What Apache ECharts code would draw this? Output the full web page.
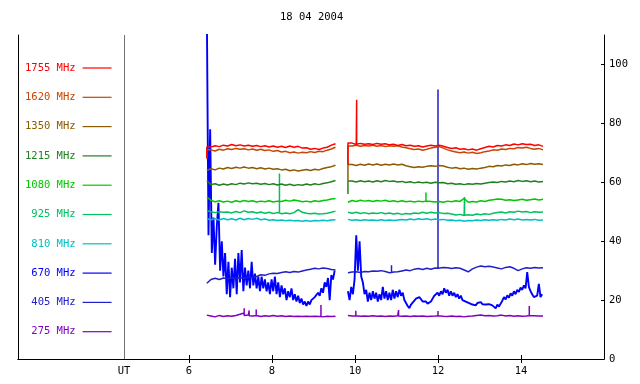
<!DOCTYPE html>
<html>
<head>
<meta charset="utf-8">
<script src="https://cdn.jsdelivr.net/npm/echarts@6/dist/echarts.min.js"></script>
<style>html,body{margin:0;padding:0;background:#fff}#c{width:640px;height:384px}</style>
</head>
<body>
<div id="c"></div>
<script>
const TITLE = '18 04 2004';
const CHANNELS = ['1755 MHz','1620 MHz','1350 MHz','1215 MHz','1080 MHz','925 MHz','810 MHz','670 MHz','405 MHz','275 MHz'];
const COLORS = ['#ff0000','#c84600','#8a5c00','#208020','#00c800','#00c060','#00c0c0','#0000ff','#2020c8','#8000c0'];
const X_MIN = 1.88, X_MAX = 16;
const UT_MARK = 4.434;
const X_TICKS = [6, 8, 10, 12, 14];
const Y_TICKS = [0, 20, 40, 60, 80, 100];
const Y_MAX = 110;
const SEG1_START = 6.43, SEG2_START = 9.83, GAP_AT = 9.68;
const STEP_SLOW = 0.1, STEP_FAST = 0.04;

// 1755 MHz
const f1755a = [72.0,72.0,72.4,72.1,72.6,72.3,72.8,72.4,
72.7,72.3,72.6,72.2,72.5,72.1,72.4,72.0,
72.3,71.9,72.2,71.8,72.3,71.9,72.2,71.6,
71.7,71.2,71.5,71.1,71.6,71.9,72.6,73.1];
const f1755b = [73.3,73.3,72.8,73.2,72.9,73.1,72.8,73.2,
72.9,73.1,72.7,72.9,72.5,72.8,72.4,72.6,
72.2,72.4,72.0,72.3,72.6,72.3,72.6,72.2,
71.8,71.5,71.7,71.2,71.4,71.0,71.3,70.9,
71.4,71.8,72.2,72.0,72.5,72.3,72.7,72.5,
73.0,72.7,73.1,72.8,72.9,72.5,72.7,72.2];
const s1755 = [[6.43, 72.0, 68.5], [9.83, 73.3, 66.0], [10.04, 72.9, 88.0]];
// 1620 MHz
const f1620a = [71.0,71.0,70.6,71.2,70.9,71.4,71.1,71.5,
71.2,71.4,71.0,71.3,70.9,71.2,70.8,71.0,
70.5,70.8,70.3,70.5,70.0,70.3,69.9,70.2,
70.0,70.4,70.1,70.5,70.4,70.9,71.3,71.9];
const f1620b = [72.3,72.3,72.6,72.2,72.5,72.3,72.6,72.2,
72.5,72.1,72.4,72.2,72.4,72.0,71.7,71.4,
71.1,71.3,70.9,71.2,71.6,71.9,72.1,71.6,
71.0,70.6,70.3,70.0,70.3,69.9,70.2,69.8,
70.0,70.4,70.6,71.0,70.9,71.3,71.1,71.5,
71.4,71.8,71.6,71.9,71.5,71.2,71.5,71.0];
const s1620 = [[6.43, 71.0, 68.0], [9.83, 72.3, 66.0]];
// 1350 MHz
const f1350a = [64.0,64.6,64.2,64.8,64.5,65.0,64.7,65.1,
64.8,65.2,64.8,65.0,64.6,64.9,64.5,64.8,
64.4,64.6,64.2,64.4,63.9,64.2,63.8,64.1,
64.3,64.0,64.4,64.2,64.7,65.0,65.3,65.8];
const f1350b = [66.0,66.0,65.7,66.1,65.8,66.2,65.9,66.2,
65.8,66.1,65.9,66.2,65.9,66.1,65.6,65.3,
65.0,65.3,65.1,65.4,65.6,65.4,65.7,65.5,
65.1,64.8,65.0,64.6,64.8,64.4,64.7,64.5,
64.8,65.0,65.4,65.3,65.7,65.5,65.9,65.7,
66.1,65.9,66.3,66.0,66.4,66.1,66.3,66.0];
const s1350 = [[9.83, 66.0, 60.5]];
// 1215 MHz
const f1215a = [60.5,59.2,59.5,59.0,59.4,59.1,59.5,59.2,
59.7,59.4,59.8,59.5,59.7,59.3,59.6,59.2,
59.5,59.1,59.4,59.0,59.3,58.9,59.2,59.0,
59.4,59.1,59.5,59.2,59.6,59.8,60.2,60.6];
const f1215b = [60.4,60.4,60.1,60.5,60.2,60.4,60.1,60.5,
60.2,60.6,60.3,60.4,60.1,60.3,59.9,60.2,
59.8,60.1,59.8,60.0,59.7,60.0,59.8,59.9,
59.5,59.7,59.3,59.5,59.2,59.5,59.3,59.6,
59.4,59.7,59.9,60.1,59.9,60.3,60.1,60.4,
60.2,60.6,60.3,60.5,60.2,60.4,60.1,60.3];
const s1215 = [[9.83, 60.4, 56.0]];
// 1080 MHz
const f1080a = [55.0,53.8,53.4,53.7,53.3,53.6,53.2,53.7,
53.4,53.8,53.5,53.7,53.3,53.6,53.4,53.7,
53.3,53.6,53.5,53.9,53.6,54.0,53.7,53.4,
53.6,53.3,53.7,53.5,53.8,54.0,54.3,54.5];
const f1080b = [53.2,53.8,53.5,53.9,53.6,53.8,53.5,53.8,
53.6,53.9,53.5,53.7,53.4,53.7,53.4,53.6,
53.3,53.6,53.4,53.8,53.5,53.3,53.5,53.2,
53.6,53.4,53.7,53.5,54.5,53.2,53.5,53.3,
53.7,53.5,53.9,54.1,54.3,54.2,53.9,54.1,
53.8,54.0,54.2,53.9,54.1,54.3,54.0,54.2];
const s1080 = [[11.71, 53.6, 56.5]];
// 925 MHz
const f925a = [50.4,50.0,49.7,50.0,49.8,49.9,49.6,50.1,
49.7,50.3,49.8,50.0,49.6,49.9,49.5,49.8,
49.4,49.7,49.3,49.6,49.3,49.7,50.7,49.8,
49.5,49.3,49.5,49.2,49.3,49.5,49.8,50.2];
const f925b = [49.8,49.5,49.8,49.4,49.7,49.3,49.6,49.4,
49.7,49.3,49.6,49.2,49.5,49.1,49.4,49.2,
49.6,49.4,49.8,49.5,49.8,49.6,49.7,49.4,
49.5,49.2,48.9,49.1,48.7,49.0,48.8,49.2,
49.0,49.3,49.1,49.5,49.7,49.9,49.6,50.0,
49.8,50.2,49.9,50.1,49.7,50.0,49.8,49.9];
const s925 = [[8.18, 49.6, 63.0], [12.64, 48.8, 55.0]];
// 810 MHz
const f810a = [47.6,47.3,47.6,47.2,47.7,47.3,47.6,47.2,
47.8,47.3,47.7,47.4,47.8,47.3,47.5,47.1,
47.3,47.0,47.2,46.9,47.1,46.9,47.0,46.8,
47.0,46.8,47.0,46.9,47.1,46.9,47.2,47.3];
const f810b = [47.4,47.1,47.3,47.0,47.3,47.1,47.2,47.0,
47.3,47.0,47.2,47.0,47.2,47.4,47.2,47.5,
47.3,47.6,47.4,47.6,47.3,47.5,47.3,47.4,
47.1,47.2,46.9,47.1,46.8,47.0,46.9,47.2,
47.0,47.3,47.1,47.3,47.1,47.4,47.2,47.5,
47.3,47.5,47.2,47.4,47.2,47.4,47.1,47.2];
// 670 MHz (sampled every STEP_FAST)
const f670a = [118,42,78,36,48,32,45,53,30,40,
28,36,22,33,21,31,24,34,22,36,
26,37,23,31,25,30,24,33,25,29,
24,28,23,28,24,27,23,26,22,27,
23,28,22,26,21,25,22,24,20,23,
21,24,20,22,19.5,21.5,19,20.5,18.5,19.5,
18,19.5,18.5,20,19.5,21,20.5,22.5,21.5,24,
22.5,26,24.5,27.5,20,28.5,27,30];
const f670b = [23,20,24.5,22,27,42,30,40,28,26,
22,23.5,19.5,22.5,20,23,20.5,22.5,19.5,22,
20,24.5,20.5,23,20,22.5,20,23.5,20.5,23,
21,23.5,21.5,22.5,20,19.5,18,17.3,18.5,19,
19.8,20.5,20,21,20.3,19.5,20,19.5,18.8,18.9,
19.5,20.5,21.5,21,22.5,21.5,23,22,24,22.5,
23.5,21.5,23,21.5,22.5,21,22,20.5,21.5,20,
20.5,19.5,20,19,19.5,18.5,19,18.2,19,18.5,
19.3,18.6,19.2,18.5,19.1,18.6,19,18.2,18.8,17.2,
18.5,17.8,18.8,19.8,21,20.2,21.6,20.8,22.3,21.5,
23,22,23.5,22.8,24.2,23.5,25,24,29.5,24.5,
23,22,21,20.5,21.5,25.5,21,22];
// 405 MHz
const f405a = [25.7,27.0,27.4,27.0,27.5,27.2,27.6,27.3,
27.6,27.4,27.8,27.6,28.0,28.6,28.4,28.9,
29.1,29.0,29.4,29.6,29.4,29.7,29.5,29.9,
30.2,30.5,30.8,30.6,30.9,30.7,30.4,30.2];
const f405b = [29.3,29.5,29.6,29.4,29.7,29.6,29.9,29.8,
30.0,29.7,29.3,29.5,29.6,29.9,30.2,30.0,
30.5,30.7,30.4,30.8,30.5,30.9,30.8,31.1,
31.0,30.7,31.0,30.8,30.2,29.6,30.6,31.2,
31.6,31.3,31.5,31.2,30.9,30.6,31.1,31.3,
30.8,30.0,30.6,31.0,30.8,31.1,30.9,31.0];
const s405 = [[10.88, 29.4, 31.8], [12.0, 30.8, 91.5]];
// 275 MHz
const f275a = [14.9,14.6,14.3,14.8,14.4,14.7,14.5,14.8,
15.2,15.6,14.9,14.6,14.9,14.4,14.7,14.5,
14.8,14.5,14.7,14.4,14.6,14.4,14.5,14.4,
14.5,14.4,14.5,14.4,14.3,14.5,14.4,14.5];
const f275b = [14.8,14.6,14.7,14.5,14.6,14.5,14.7,14.5,
14.6,14.4,14.6,14.5,14.7,14.5,14.6,14.4,
14.6,14.5,14.6,14.4,14.5,14.6,14.7,14.5,
14.4,14.6,14.4,14.5,14.3,14.5,14.6,14.8,
14.9,14.7,14.8,14.6,14.7,14.9,14.6,14.8,
14.5,14.7,14.5,14.6,14.9,14.7,14.6,14.6];
const s275 = [[7.33, 14.8, 17.2], [7.45, 14.7, 16.5], [7.62, 14.8, 16.8], [9.18, 14.4, 18.3],
  [10.02, 14.7, 16.4], [11.05, 14.6, 16.6], [12.0, 14.7, 16.3], [14.2, 14.8, 18.0]];

function build(a, b, step, spikes) {
  const pts = [];
  a.forEach((v, i) => pts.push([+(SEG1_START + i * step).toFixed(3), v]));
  b.forEach((v, i) => pts.push([+(SEG2_START + i * step).toFixed(3), v]));
  (spikes || []).forEach(s => { pts.push([s[0], s[1]], [s[0], s[2]], [s[0], s[1]]); });
  pts.sort((p, q) => p[0] - q[0]);
  const gi = pts.findIndex(p => p[0] >= SEG2_START);
  pts.splice(gi, 0, [GAP_AT, null]);
  return pts;
}

const SERIES_DATA = {
  '1755 MHz': build(f1755a, f1755b, STEP_SLOW, s1755),
  '1620 MHz': build(f1620a, f1620b, STEP_SLOW, s1620),
  '1350 MHz': build(f1350a, f1350b, STEP_SLOW, s1350),
  '1215 MHz': build(f1215a, f1215b, STEP_SLOW, s1215),
  '1080 MHz': build(f1080a, f1080b, STEP_SLOW, s1080),
  '925 MHz': build(f925a, f925b, STEP_SLOW, s925),
  '810 MHz': build(f810a, f810b, STEP_SLOW),
  '670 MHz': build(f670a, f670b, STEP_FAST),
  '405 MHz': build(f405a, f405b, STEP_SLOW, s405),
  '275 MHz': build(f275a, f275b, STEP_SLOW, s275)
};
const DRAW_ORDER = ['275 MHz','670 MHz','405 MHz','810 MHz','925 MHz','1080 MHz','1215 MHz','1350 MHz','1620 MHz','1755 MHz'];

const FONT = 'DejaVu Sans Mono';
const FS = 10.5;
const chart = echarts.init(document.getElementById('c'), null, {renderer: 'canvas'});

const series = DRAW_ORDER.map((name, k) => {
  const i = CHANNELS.indexOf(name);
  const s = {
    name: name,
    type: 'line',
    data: SERIES_DATA[name],
    symbol: 'none',
    showSymbol: false,
    connectNulls: false,
    clip: true,
    color: COLORS[i],
    lineStyle: {color: COLORS[i], width: name === '670 MHz' ? 1.9 : 1.5},
    animation: false,
    silent: true
  };
  if (k === 0) {
    s.markLine = {
      silent: true, symbol: ['none', 'none'], animation: false,
      label: {show: false},
      lineStyle: {color: '#707070', width: 1, type: 'solid'},
      data: [{xAxis: UT_MARK}]
    };
  }
  return s;
});

chart.setOption({
  animation: false,
  backgroundColor: '#fff',
  title: {
    text: TITLE, left: 280, top: 12, padding: 0,
    textStyle: {fontFamily: FONT, fontSize: FS, fontWeight: 'normal', color: '#000'}
  },
  legend: {
    orient: 'vertical', left: 25, top: 61, align: 'right',
    itemWidth: 29, itemHeight: 14, itemGap: 15.3,
    icon: 'path://M0,0H29V1.2H0Z', symbolKeepAspect: true,
    selectedMode: false,
    padding: 0,
    textStyle: {fontFamily: FONT, fontSize: FS, lineHeight: 14, padding: [0, 2, 0, 0]},
    data: CHANNELS.map((n, i) => ({name: n, textStyle: {color: COLORS[i]}}))
  },
  grid: {left: 18, right: 36, top: 35, bottom: 25, containLabel: false},
  xAxis: [
    {
      type: 'value', position: 'bottom', min: X_MIN, max: X_MAX,
      axisLine: {show: true, lineStyle: {color: '#000', width: 1}},
      axisTick: {show: true, inside: true, length: 4, customValues: X_TICKS, lineStyle: {color: '#000'}},
      axisLabel: {
        customValues: [UT_MARK].concat(X_TICKS), margin: 7, color: '#000',
        fontFamily: FONT, fontSize: FS,
        formatter: v => (Math.abs(v - UT_MARK) < 1e-6 ? 'UT' : String(v))
      },
      splitLine: {show: false}
    },
    {
      type: 'value', position: 'top', min: X_MIN, max: X_MAX,
      axisLine: {show: true, lineStyle: {color: '#000', width: 1}},
      axisTick: {show: true, inside: true, length: 4, customValues: X_TICKS, lineStyle: {color: '#000'}},
      axisLabel: {show: false},
      splitLine: {show: false}
    }
  ],
  yAxis: [
    {
      type: 'value', position: 'right', min: 0, max: Y_MAX,
      axisLine: {show: true, lineStyle: {color: '#000', width: 1}},
      axisTick: {show: true, inside: true, length: 3, customValues: Y_TICKS, lineStyle: {color: '#000'}},
      axisLabel: {customValues: Y_TICKS, margin: 5, color: '#000', fontFamily: FONT, fontSize: FS},
      splitLine: {show: false}
    },
    {
      type: 'value', position: 'left', min: 0, max: Y_MAX,
      axisLine: {show: true, lineStyle: {color: '#000', width: 1}},
      axisTick: {show: false}, axisLabel: {show: false}, splitLine: {show: false}
    }
  ],
  series: series
});
</script>
</body>
</html>
